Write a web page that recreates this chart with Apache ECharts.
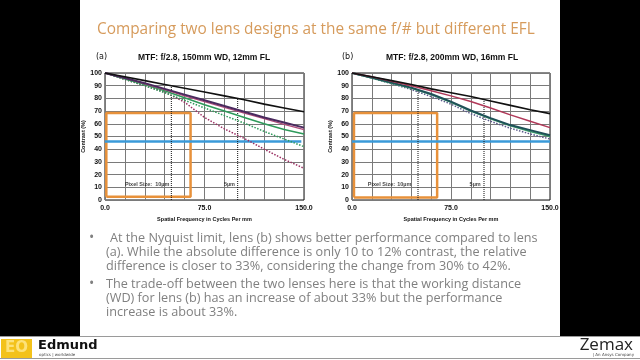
<!DOCTYPE html>
<html><head><meta charset="utf-8">
<script src="https://cdn.jsdelivr.net/npm/echarts@6/dist/echarts.min.js"></script>
<style>html,body{margin:0;padding:0;background:#000}#c{width:640px;height:360px}</style>
</head><body><div id="c"></div>
<script>
// ---- data ----
const freq = [0, 15, 30, 45, 60, 75, 90, 105, 120, 135, 150];
const xTickValues = [0, 75, 150];
const xTickLabels = ['0.0', '75.0', '150.0'];
// lens (a)
const aBlack     = [100, 97, 94, 91, 88, 85, 82, 79, 75.5, 72.5, 69.5];
const aPurple    = [100, 96, 92, 87.5, 83, 78.5, 74, 69.5, 65, 61, 57];
const aPink      = [100, 96, 91.5, 87, 82, 77.5, 73, 68.5, 64, 59.5, 55.5];
const aGreen     = [100, 95.5, 91, 86, 80.5, 75, 70, 65, 60, 55.5, 52];
const aGreenDot  = [100, 95, 90, 84.5, 78.5, 72.5, 66.5, 60.5, 54, 48, 42];
const aMaroonDot = [100, 95, 90, 85, 77, 65, 56, 48.5, 40, 32, 25];
// lens (b)
const bBlack     = [100, 97, 94, 91, 87.5, 84.5, 81.5, 78, 74.5, 71, 68];
const bCrimson   = [100, 97, 93.5, 90, 86, 82, 77.5, 72.5, 67, 62, 57];
const bTeal      = [100, 96.5, 92.5, 88.5, 83.5, 77.5, 70.5, 64.5, 59, 55, 51];
const bGreen     = [100, 96, 92, 88, 83, 77, 70, 64, 58.5, 54, 50];
const bGrayDot   = [100, 96, 91.5, 87, 81.5, 75.5, 68, 62, 56.5, 52, 48];
// annotations
const aBlue = [[0, 46], [148, 46]];
const bBlue = [[0, 46], [150, 46]];
const aRect = [[1, 2.5], [1, 68.5], [64.5, 68.5], [64.5, 2.5], [1, 2.5]];
const bRect = [[1.5, 2], [1.5, 68.5], [64.5, 68.5], [64.5, 2], [1.5, 2]];
const aPix10 = [[50, 0], [50, 89]];
const aPix5  = [[100, 0], [100, 79.5]];
const bPix10 = [[50, 0], [50, 89]];
const bPix5  = [[100, 0], [100, 79]];
// [x, y, text, anchor] anchor 'start' = text begins at x, 'end' = text ends at x
const aLabels = [[15, 12.5, 'Pixel Size:', 'start'], [48.5, 12.5, '10µm', 'end'], [98, 12.5, '5µm', 'end']];
const bLabels = [[12, 12.5, 'Pixel Size:', 'start'], [45, 12.5, '10µm', 'end'], [97.5, 12.5, '5µm', 'end']];

const bullet1 = ['At the Nyquist limit, lens (b) shows better performance compared to lens',
  '(a). While the absolute difference is only 10 to 12% contrast, the relative',
  'difference is closer to 33%, considering the change from 30% to 42%.'];
const bullet2 = ['The trade-off between the two lenses here is that the working distance',
  '(WD) for lens (b) has an increase of about 33% but the performance',
  'increase is about 33%.'];

// ---- chart ----
const NARROW = '"Liberation Sans",sans-serif';
const zip = v => freq.map((f, i) => [f, v[i]]);
function lineS(idx, data, color, width, type) {
  return { type: 'line', xAxisIndex: idx, yAxisIndex: idx, data: data, symbol: 'none',
    silent: true, lineStyle: { color: color, width: width, type: type || 'solid' }, z: 3 };
}
function labelS(idx, data) {
  return { type: 'scatter', xAxisIndex: idx, yAxisIndex: idx, symbolSize: 0, silent: true, z: 5,
    data: data.map(d => ({ value: [d[0], d[1]], name: d[2],
      label: { position: d[3] === 'start' ? 'right' : 'left', distance: 0 } })),
    label: { show: true, formatter: p => p.name,
      fontFamily: NARROW, fontWeight: 'bold', fontSize: 5.5, color: '#111' } };
}
function xAx(idx) {
  return { gridIndex: idx, type: 'value', min: 0, max: 150, interval: 15,
    axisLine: { show: false }, axisTick: { show: false },
    splitLine: { lineStyle: { color: '#7a7a7a', width: 1 } },
    axisLabel: { fontFamily: NARROW, fontWeight: 'bold', fontSize: 7, color: '#111', margin: 5,
      formatter: v => { const k = xTickValues.indexOf(v); return k >= 0 ? xTickLabels[k] : ''; } },
    name: 'Spatial Frequency in Cycles Per mm', nameLocation: 'middle', nameGap: 16,
    nameTextStyle: { fontFamily: NARROW, fontWeight: 'bold', fontSize: 5.5, color: '#111' } };
}
function yAx(idx) {
  return { gridIndex: idx, type: 'value', min: 0, max: 100, interval: 10,
    axisLine: { show: false }, axisTick: { show: false },
    splitLine: { lineStyle: { color: '#7a7a7a', width: 1 } },
    axisLabel: { fontFamily: NARROW, fontWeight: 'bold', fontSize: 7, color: '#111', margin: 3 },
    name: 'Contrast (%)', nameLocation: 'middle', nameGap: 15, nameRotate: 90,
    nameTextStyle: { fontFamily: NARROW, fontWeight: 'bold', fontSize: 5.5, color: '#111' } };
}

const graphic = [
  { type: 'rect', shape: { x: 0, y: 0, width: 80, height: 336 }, style: { fill: '#000' }, silent: true },
  { type: 'rect', shape: { x: 560, y: 0, width: 80, height: 336 }, style: { fill: '#000' }, silent: true },
  { type: 'line', shape: { x1: 0, y1: 336.5, x2: 640, y2: 336.5 }, style: { stroke: '#9a9a9a', lineWidth: 1 } },
  { type: 'line', shape: { x1: 0, y1: 358.5, x2: 640, y2: 358.5 }, style: { stroke: '#9a9a9a', lineWidth: 1 } },
  { type: 'text', x: 97, y: 30, style: { text: 'Comparing two lens designs at the same f/# but different EFL',
      fontFamily: '"Open Sans",sans-serif', fontSize: 15.4, fill: '#d69b5c', textVerticalAlign: 'middle' } },
  { type: 'text', x: 96, y: 57, style: { text: '(a)', fontFamily: '"DejaVu Sans",sans-serif', fontSize: 8, fill: '#111', textVerticalAlign: 'middle' } },
  { type: 'text', x: 342, y: 57, style: { text: '(b)', fontFamily: '"DejaVu Sans",sans-serif', fontSize: 8, fill: '#111', textVerticalAlign: 'middle' } },
  { type: 'text', x: 204, y: 58, style: { text: 'MTF: f/2.8, 150mm WD, 12mm FL', fontFamily: NARROW, fontWeight: 'bold', fontSize: 8.5, fill: '#111', textAlign: 'center', textVerticalAlign: 'middle' } },
  { type: 'text', x: 452, y: 58, style: { text: 'MTF: f/2.8, 200mm WD, 16mm FL', fontFamily: NARROW, fontWeight: 'bold', fontSize: 8.5, fill: '#111', textAlign: 'center', textVerticalAlign: 'middle' } },
  // footer logos
  { type: 'rect', shape: { x: 1, y: 339, width: 31, height: 19 }, style: { fill: '#f3c21b' } },
  { type: 'text', x: 16.5, y: 348.5, style: { text: 'EO', fontFamily: '"DejaVu Sans",sans-serif', fontWeight: 'bold', fontSize: 15, fill: '#fde27a', textAlign: 'center', textVerticalAlign: 'middle' } },
  { type: 'text', x: 38, y: 346, style: { text: 'Edmund', fontFamily: '"DejaVu Sans",sans-serif', fontWeight: 'bold', fontSize: 13, fill: '#111', textVerticalAlign: 'middle' } },
  { type: 'text', x: 39, y: 355, style: { text: 'optics | worldwide', fontFamily: '"DejaVu Sans",sans-serif', fontSize: 4, fill: '#444', textVerticalAlign: 'middle' } },
  { type: 'text', x: 633, y: 345, style: { text: 'Zemax', fontFamily: '"Open Sans",sans-serif', fontSize: 17, fill: '#222', textAlign: 'right', textVerticalAlign: 'middle' } },
  { type: 'text', x: 634, y: 355, style: { text: '| An Ansys Company', fontFamily: '"DejaVu Sans",sans-serif', fontSize: 4, fill: '#444', textAlign: 'right', textVerticalAlign: 'middle' } }
];
const txtStyle = { fontFamily: '"Open Sans",sans-serif', fontSize: 12.65, fill: '#808080', textVerticalAlign: 'middle' };
const b1y = [238, 252, 266], b2y = [284, 298, 312];
graphic.push({ type: 'text', x: 89, y: 238, style: Object.assign({}, txtStyle, { text: '•', fontSize: 14 }) });
graphic.push({ type: 'text', x: 89, y: 284, style: Object.assign({}, txtStyle, { text: '•', fontSize: 14 }) });
bullet1.forEach((t, i) => graphic.push({ type: 'text', x: i === 0 ? 110 : 106, y: b1y[i], style: Object.assign({}, txtStyle, { text: t }) }));
bullet2.forEach((t, i) => graphic.push({ type: 'text', x: 106, y: b2y[i], style: Object.assign({}, txtStyle, { text: t }) }));

const option = {
  backgroundColor: '#ffffff',
  animation: false,
  grid: [
    { left: 105, top: 73, width: 199, height: 127, show: true, borderColor: '#111', borderWidth: 1, backgroundColor: 'transparent' },
    { left: 352, top: 73, width: 198, height: 127, show: true, borderColor: '#111', borderWidth: 1, backgroundColor: 'transparent' }
  ],
  xAxis: [xAx(0), xAx(1)],
  yAxis: [yAx(0), yAx(1)],
  series: [
    lineS(0, aRect, '#e8913a', 2.5),
    lineS(0, aBlue, '#3a9ad9', 2.5),
    lineS(0, aPix10, '#111', 1, 'dotted'),
    lineS(0, aPix5, '#111', 1, 'dotted'),
    lineS(0, zip(aMaroonDot), '#9a2f62', 1.5, 'dotted'),
    lineS(0, zip(aGreenDot), '#2e9a5a', 1.5, 'dotted'),
    lineS(0, zip(aGreen), '#2e9a5a', 1.6),
    lineS(0, zip(aPink), '#b04a7a', 1.3),
    lineS(0, zip(aPurple), '#4a2a5e', 2),
    lineS(0, zip(aBlack), '#111', 1.6),
    labelS(0, aLabels),
    lineS(1, bRect, '#e8913a', 2.5),
    lineS(1, bBlue, '#3a9ad9', 2.5),
    lineS(1, bPix10, '#111', 1, 'dotted'),
    lineS(1, bPix5, '#111', 1, 'dotted'),
    lineS(1, zip(bGrayDot), '#5a5a8a', 1.5, 'dotted'),
    lineS(1, zip(bGreen), '#3a9a6a', 1.5),
    lineS(1, zip(bTeal), '#1f5058', 2),
    lineS(1, zip(bCrimson), '#b03858', 1.5),
    lineS(1, zip(bBlack), '#111', 1.6),
    labelS(1, bLabels)
  ],
  graphic: graphic
};
const chart = echarts.init(document.getElementById('c'), null, { renderer: 'canvas' });
chart.setOption(option);
</script></body></html>
